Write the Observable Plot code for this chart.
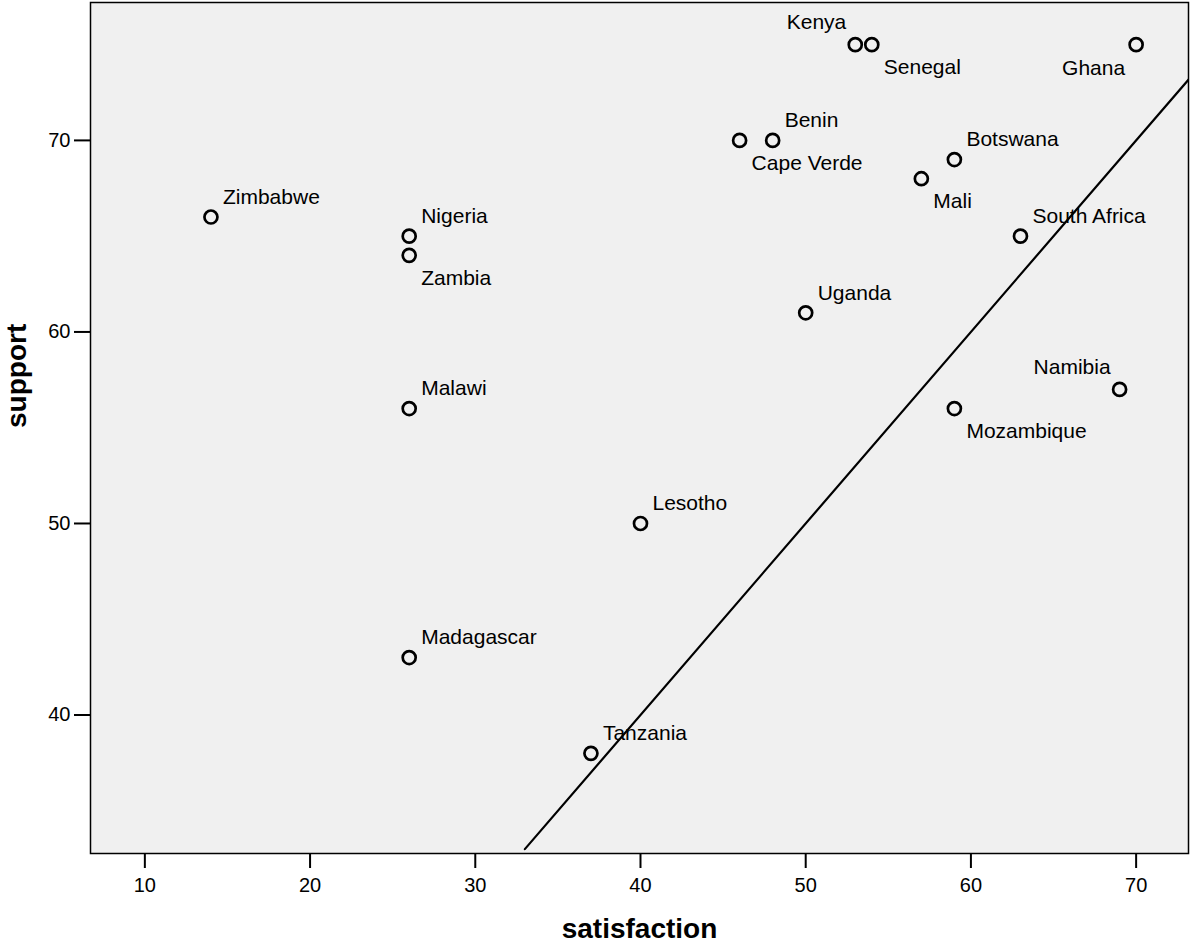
<!DOCTYPE html>
<html>
<head>
<meta charset="utf-8">
<script src="https://cdn.jsdelivr.net/npm/d3@7"></script>
<script src="https://cdn.jsdelivr.net/npm/@observablehq/plot@0.6"></script>
<style>
  html, body { margin: 0; padding: 0; background: white; }
</style>
</head>
<body>
<div id="chart"></div>
<script>
const countries = ["Kenya","Senegal","Ghana","Benin","Cape Verde","Botswana","Mali","South Africa","Zimbabwe","Nigeria","Zambia","Uganda","Namibia","Mozambique","Malawi","Lesotho","Madagascar","Tanzania"];
const satisfaction = [53, 54, 70, 48, 46, 59, 57, 63, 14, 26, 26, 50, 69, 59, 26, 40, 26, 37];
const support =      [75, 75, 75, 70, 70, 69, 68, 65, 66, 65, 64, 61, 57, 56, 56, 50, 43, 38];
// label placement relative to its point: ne = above right, se = below right, nw = above left, sw = below left
const labelSide = ["nw","se","sw","ne","se","ne","se","ne","ne","ne","se","ne","nw","se","ne","ne","ne","ne"];
const xTicks = [10, 20, 30, 40, 50, 60, 70];
const yTicks = [40, 50, 60, 70];
const identityLine = [33, 80]; // reference line support = satisfaction
const xTitle = "satisfaction";
const yTitle = "support";

const rows = countries.map((c, i) => ({country: c, satisfaction: satisfaction[i], support: support[i], side: labelSide[i]}));

const sideStyle = {
  ne: {dx: 12, dy: -20, textAnchor: "start"},
  se: {dx: 12, dy: 23, textAnchor: "start"},
  nw: {dx: -9, dy: -22, textAnchor: "end"},
  sw: {dx: -11, dy: 24, textAnchor: "end"}
};

const labelMarks = Object.entries(sideStyle).map(([side, s]) =>
  Plot.text(rows.filter(d => d.side === side), {
    x: "satisfaction", y: "support", text: "country",
    dx: s.dx, dy: s.dy, textAnchor: s.textAnchor,
    fontSize: 21, fill: "black"
  })
);

const chart = Plot.plot({
  width: 1191,
  height: 943,
  marginLeft: 90,
  marginRight: 3,
  marginTop: 2,
  marginBottom: 90,
  style: {fontFamily: "'Liberation Sans', Arial, sans-serif", background: "white", color: "black"},
  x: {domain: [6.71, 73.17]},
  y: {domain: [32.77, 77.2]},
  marks: [
    Plot.frame({fill: "#f0f0f0"}),
    Plot.line(identityLine, {x: d => d, y: d => d, stroke: "black", strokeWidth: 2.2, clip: true}),
    Plot.dot(rows, {x: "satisfaction", y: "support", r: 6.5, stroke: "black", strokeWidth: 2.7, fill: "none"}),
    ...labelMarks,
    Plot.frame({stroke: "black", strokeWidth: 1.5}),
    Plot.axisX({ticks: xTicks, tickSize: 15, tickPadding: 9, fontSize: 20, strokeWidth: 2, label: null}),
    Plot.axisY({ticks: yTicks, tickSize: 16, tickPadding: 4, fontSize: 20, strokeWidth: 2, label: null}),
    Plot.text([xTitle], {frameAnchor: "bottom", dy: 84, text: d => d, fontSize: 28, fontWeight: "bold", fill: "black"}),
    Plot.text([yTitle], {frameAnchor: "left", dx: -73, rotate: -90, text: d => d, fontSize: 28, fontWeight: "bold", fill: "black"})
  ]
});
document.getElementById("chart").appendChild(chart);
</script>
</body>
</html>
